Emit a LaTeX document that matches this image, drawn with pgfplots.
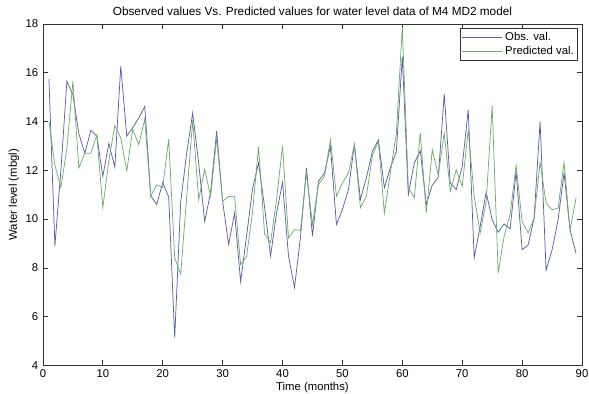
\documentclass[border=0pt]{standalone}
\usepackage{fontspec}
\setmainfont{Liberation Sans}
\usepackage{pgfplots}
\pgfplotsset{compat=1.18}
\usepackage{pgfplotstable}
\definecolor{obsc}{RGB}{92,92,160}
\definecolor{predc}{RGB}{110,172,110}
\pgfplotstableread{
m obs pred
1 15.75 14.0
2 8.9 12.2
3 12.0 11.3
4 15.65 12.9
5 15.1 15.65
6 13.5 12.1
7 12.7 12.7
8 13.64 12.7
9 13.4 13.45
10 11.75 10.47
11 13.1 12.4
12 12.13 13.83
13 16.27 13.33
14 13.4 11.98
15 13.75 13.68
16 14.14 13.05
17 14.62 14.1
18 10.95 10.95
19 10.6 11.4
20 11.5 11.3
21 10.9 13.28
22 5.14 8.4
23 10.7 7.75
24 12.7 10.9
25 14.35 14.05
26 12.3 10.8
27 9.9 12.03
28 11.1 10.94
29 13.6 13.32
30 10.73 10.73
31 8.96 10.92
32 10.25 10.94
33 7.44 8.13
34 9.3 8.47
35 11.25 10.3
36 12.3 12.97
37 10.5 9.4
38 8.48 9.03
39 10.25 10.8
40 11.5 12.99
41 8.48 9.23
42 7.19 9.57
43 9.25 9.53
44 12.1 11.89
45 9.3 9.78
46 11.55 11.41
47 11.89 11.75
48 12.98 13.25
49 9.78 10.94
50 10.39 11.48
51 11.21 11.89
52 13.05 13.05
53 10.8 10.46
54 11.69 10.94
55 12.77 12.6
56 13.25 13.18
57 11.28 10.25
58 12.1 11.89
59 12.77 13.52
60 16.66 17.88
61 11.0 11.3
62 12.3 10.87
63 12.8 13.53
64 10.6 10.25
65 11.4 12.84
66 11.7 11.8
67 15.13 13.52
68 11.48 11.14
69 11.21 12.02
70 12.16 11.34
71 14.48 13.66
72 8.41 10.93
73 9.71 9.43
74 11.1 10.73
75 9.97 14.65
76 9.46 7.8
77 9.8 9.3
78 9.6 10.2
79 11.95 12.2
80 8.74 9.9
81 8.93 9.43
82 10.04 10.04
83 14.0 12.32
84 7.9 10.66
85 8.74 10.38
86 9.97 10.45
87 11.89 12.32
88 9.56 9.56
89 8.6 10.86
}\datatable
\begin{document}
\begin{tikzpicture}
\begin{axis}[
  name=ax,
  scale only axis,
  width=405pt, height=256.5pt,
  xmin=0, xmax=90, ymin=4, ymax=18,
  xtick={0,10,...,90}, ytick={4,6,...,18},
  tick align=inside,
  axis line style={black!80, line width=0.5pt},
  tick style={black!80, line width=0.5pt},
  major tick length=4pt,
  /pgf/number format/assume math mode=true,
  tick label style={font=\fontsize{8.5}{10}\selectfont},
  label style={font=\fontsize{8.5}{10}\selectfont},
  title style={font=\fontsize{8.85}{10}\selectfont, yshift=-3pt},
  title={Observed values Vs. Predicted values for water level data of M4 MD2 model},
  xlabel={Time (months)},
  ylabel={Water level (mbgl)},
  xlabel style={yshift=4pt},
  ylabel style={yshift=-2pt},
  legend style={at={(1,1)}, anchor=north east, xshift=-3pt, yshift=-3pt,
    draw=black!80, fill=white, font=\fontsize{8.5}{9.5}\selectfont,
    inner sep=1pt, row sep=-1pt},
  legend cell align=left,
  legend image code/.code={\draw[#1] (0pt,0pt) -- (30pt,0pt);},
]
\addplot[obsc, line width=0.55pt] table[x=m, y=obs] {\datatable};
\addlegendentry{Obs. val.}
\addplot[predc, line width=0.55pt] table[x=m, y=pred] {\datatable};
\addlegendentry{Predicted val.}
\end{axis}
\pgfresetboundingbox
\path (ax.south west) ++(-32.25pt,-21pt) coordinate (bl);
\path (ax.north east) ++(5.25pt,18pt) coordinate (tr);
\useasboundingbox (bl) rectangle (tr);
\end{tikzpicture}
\end{document}
